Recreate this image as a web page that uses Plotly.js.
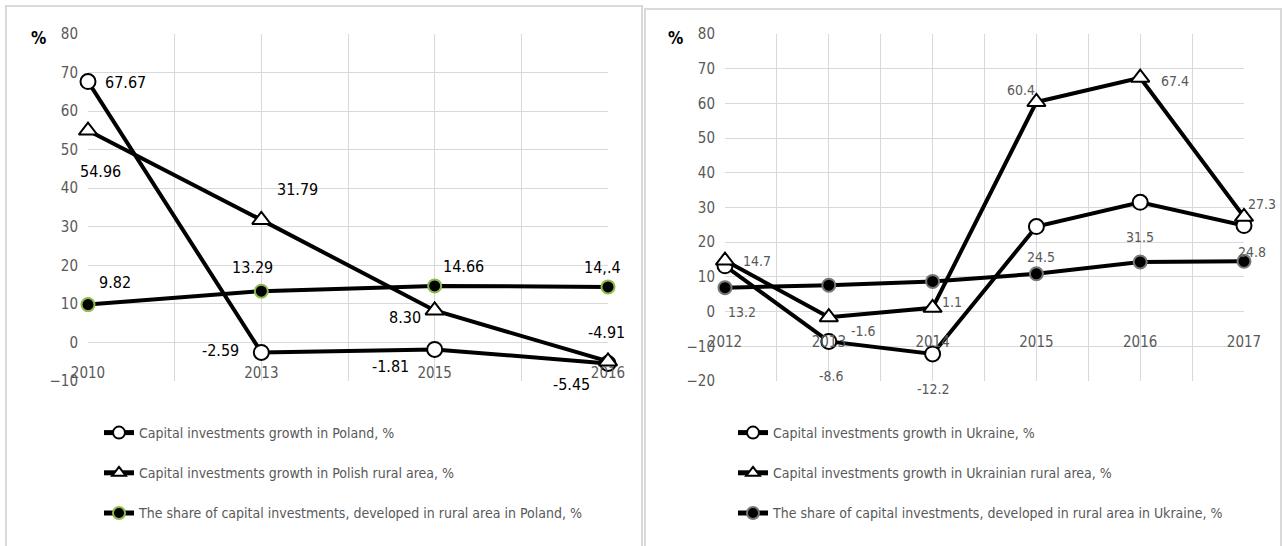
<!DOCTYPE html>
<html><head><meta charset="utf-8">
<script src="https://cdn.plot.ly/plotly-3.0.1.min.js"></script>
<style>html,body{margin:0;padding:0;background:#fff}#chart{width:1282px;height:546px}</style>
</head><body><div id="chart"></div>
<script>
// ---- Data: Poland ----
const yearsPL = ['2010', '2013', '2015', '2016'];
const growthPL = [67.67, -2.59, -1.81, -5.45];
const ruralGrowthPL = [54.96, 31.79, 8.30, -4.91];
const ruralSharePL = [9.82, 13.29, 14.66, 14.4];
const growthLabelsPL = ['67.67', '-2.59', '-1.81', '-5.45'];
const ruralGrowthLabelsPL = ['54.96', '31.79', '8.30', '-4.91'];
const ruralShareLabelsPL = ['9.82', '13.29', '14.66', '14,.4'];

// ---- Data: Ukraine ----
const yearsUA = ['2012', '2013', '2014', '2015', '2016', '2017'];
const growthUA = [13.2, -8.6, -12.2, 24.5, 31.5, 24.8];
const ruralGrowthUA = [14.7, -1.6, 1.1, 60.4, 67.4, 27.3];
const ruralShareUA = [6.9, 7.6, 8.7, 10.9, 14.3, 14.5];
const growthLabelsUA = ['13.2', '-8.6', '-12.2', '24.5', '31.5', '24.8'];
const ruralGrowthLabelsUA = ['14.7', '-1.6', '1.1', '60.4', '67.4', '27.3'];

const namesPL = ['Capital investments growth in Poland, %',
  'Capital investments growth in Polish rural area, %',
  'The share of capital investments, developed in rural area in Poland, %'];
const namesUA = ['Capital investments growth in Ukraine, %',
  'Capital investments growth in Ukrainian rural area, %',
  'The share of capital investments, developed in rural area in Ukraine, %'];

// ---- label offsets (pixels: [dx, dy] with dy positive = downwards) ----
const offGrowthPL = [[37, 1], [-41, -2], [-44, 17], [-37, 21]];
const offRuralPL = [[12, 41], [36, -30], [-30, 7], [-2, -29]];
const offSharePL = [[27, -22], [-9, -24], [29, -19], [-6, -19]];
const offGrowthUA = [[17, 46], [3, 35], [1, 35], [5, 30], [0, 35], [8, 26]];
const offRuralUA = [[32, 0], [35, 14], [19, -6], [-15, -12], [35, 3], [18, -13]];

const FONT = '"DejaVu Sans Condensed", "Liberation Sans Narrow", sans-serif';
const GRAY = '#595959';
const GRID = '#d9d9d9';

const W = 1282, H = 546, MT = 34, MB = 165;
const PH = H - MT - MB;
const px = v => v / W;
const py = v => (H - MB - v) / PH;

const idx = arr => arr.map((_, i) => i);

function lineTrace(xs, ys, name, kind, xa, ya, leg, grp) {
  let marker;
  if (kind === 'circle') marker = {symbol: 'circle', size: 15, color: '#fff', line: {color: '#000', width: 2}};
  else if (kind === 'tri') marker = {symbol: 'triangle-up', size: 16, color: '#fff', line: {color: '#000', width: 2}};
  else if (kind === 'sharePL') marker = {symbol: 'circle', size: 13, color: '#000', line: {color: '#8fba4a', width: 2}};
  else marker = {symbol: 'circle', size: 13, color: '#000', line: {color: '#777', width: 2}};
  return {x: xs, y: ys, name: name, type: 'scatter', mode: 'lines+markers', cliponaxis: false,
    line: {color: '#000', width: 4}, marker: marker, xaxis: xa, yaxis: ya,
    legend: leg, legendgroup: grp, hoverinfo: 'x+y'};
}

const data = [
  lineTrace(idx(yearsPL), growthPL, namesPL[0], 'circle', 'x', 'y', 'legend', 'a'),
  lineTrace(idx(yearsPL), ruralGrowthPL, namesPL[1], 'tri', 'x', 'y', 'legend', 'b'),
  lineTrace(idx(yearsPL), ruralSharePL, namesPL[2], 'sharePL', 'x', 'y', 'legend', 'c'),
  lineTrace(idx(yearsUA), growthUA, namesUA[0], 'circle', 'x2', 'y2', 'legend2', 'd'),
  lineTrace(idx(yearsUA), ruralGrowthUA, namesUA[1], 'tri', 'x2', 'y2', 'legend2', 'e'),
  lineTrace(idx(yearsUA), ruralShareUA, namesUA[2], 'shareUA', 'x2', 'y2', 'legend2', 'f')
];

const annotations = [];
function addLabels(vals, labels, offs, xr, yr, color, size) {
  vals.forEach((v, i) => {
    annotations.push({x: i, y: v, xref: xr, yref: yr, text: labels[i], showarrow: false,
      xshift: offs[i][0], yshift: -offs[i][1], font: {family: FONT, size: size, color: color}});
  });
}
addLabels(growthPL, growthLabelsPL, offGrowthPL, 'x', 'y', '#000', 16);
addLabels(ruralGrowthPL, ruralGrowthLabelsPL, offRuralPL, 'x', 'y', '#000', 16);
addLabels(ruralSharePL, ruralShareLabelsPL, offSharePL, 'x', 'y', '#000', 16);
addLabels(growthUA, growthLabelsUA, offGrowthUA, 'x2', 'y2', GRAY, 14);
addLabels(ruralGrowthUA, ruralGrowthLabelsUA, offRuralUA, 'x2', 'y2', GRAY, 14);

annotations.push({x: px(38), y: py(38), xref: 'paper', yref: 'paper', xanchor: 'center', yanchor: 'middle',
  text: '<b>%</b>', showarrow: false, font: {family: FONT, size: 17, color: '#000'}});
annotations.push({x: px(676), y: py(38), xref: 'paper', yref: 'paper', xanchor: 'center', yanchor: 'middle',
  text: '<b>%</b>', showarrow: false, font: {family: FONT, size: 17, color: '#000'}});

function halfTicks(cats) {
  const vals = [], txt = [];
  for (let i = 0; i < cats.length; i++) {
    vals.push(i); txt.push(cats[i]);
    if (i < cats.length - 1) { vals.push(i + 0.5); txt.push(''); }
  }
  return {vals, txt};
}
const tPL = halfTicks(yearsPL), tUA = halfTicks(yearsUA);

const tickFont = {family: FONT, size: 15, color: GRAY};
const legFont = {family: FONT, size: 14, color: GRAY};

const layout = {
  width: W, height: H,
  margin: {l: 0, r: 0, t: MT, b: MB},
  paper_bgcolor: '#fff', plot_bgcolor: '#fff',
  font: {family: FONT, color: GRAY},
  showlegend: true,
  xaxis: {domain: [px(88), px(608)], range: [0, yearsPL.length - 1], tickmode: 'array',
    tickvals: tPL.vals, ticktext: tPL.txt, showgrid: true, gridcolor: GRID, gridwidth: 1,
    zeroline: false, showline: false, ticks: '', anchor: 'free', position: 10 / 90,
    ticklabelstandoff: 20, tickfont: tickFont, fixedrange: true},
  yaxis: {domain: [0, 1], range: [-10, 80], dtick: 10, tick0: 0, showgrid: true, gridcolor: GRID,
    zeroline: false, showline: false, ticks: '', anchor: 'x', ticklabelstandoff: 9,
    tickfont: tickFont, fixedrange: true},
  xaxis2: {domain: [px(725), px(1244)], range: [0, yearsUA.length - 1], tickmode: 'array',
    tickvals: tUA.vals, ticktext: tUA.txt, showgrid: true, gridcolor: GRID, gridwidth: 1,
    zeroline: false, showline: false, ticks: '', anchor: 'free', position: 20 / 100,
    ticklabelstandoff: 19, tickfont: tickFont, fixedrange: true},
  yaxis2: {domain: [0, 1], range: [-20, 80], dtick: 10, tick0: 0, showgrid: true, gridcolor: GRID,
    zeroline: false, showline: false, ticks: '', anchor: 'x2', ticklabelstandoff: 9,
    tickfont: tickFont, fixedrange: true},
  legend: {x: px(99), y: py(417), xanchor: 'left', yanchor: 'top', orientation: 'v', itemsizing: 'constant',
    tracegroupgap: 19, font: legFont, bgcolor: 'rgba(0,0,0,0)', itemclick: false},
  legend2: {x: px(733), y: py(417), xanchor: 'left', yanchor: 'top', orientation: 'v', itemsizing: 'constant',
    tracegroupgap: 19, font: legFont, bgcolor: 'rgba(0,0,0,0)', itemclick: false},
  annotations: annotations,
  shapes: [
    {type: 'rect', xref: 'paper', yref: 'paper', x0: px(6), x1: px(642), y0: py(560), y1: py(6),
      line: {color: GRID, width: 2}, layer: 'below'},
    {type: 'rect', xref: 'paper', yref: 'paper', x0: px(645), x1: px(1281), y0: py(560), y1: py(9),
      line: {color: GRID, width: 2}, layer: 'below'}
  ]
};

Plotly.newPlot('chart', data, layout, {displayModeBar: false, staticPlot: true});
</script>
</body></html>
